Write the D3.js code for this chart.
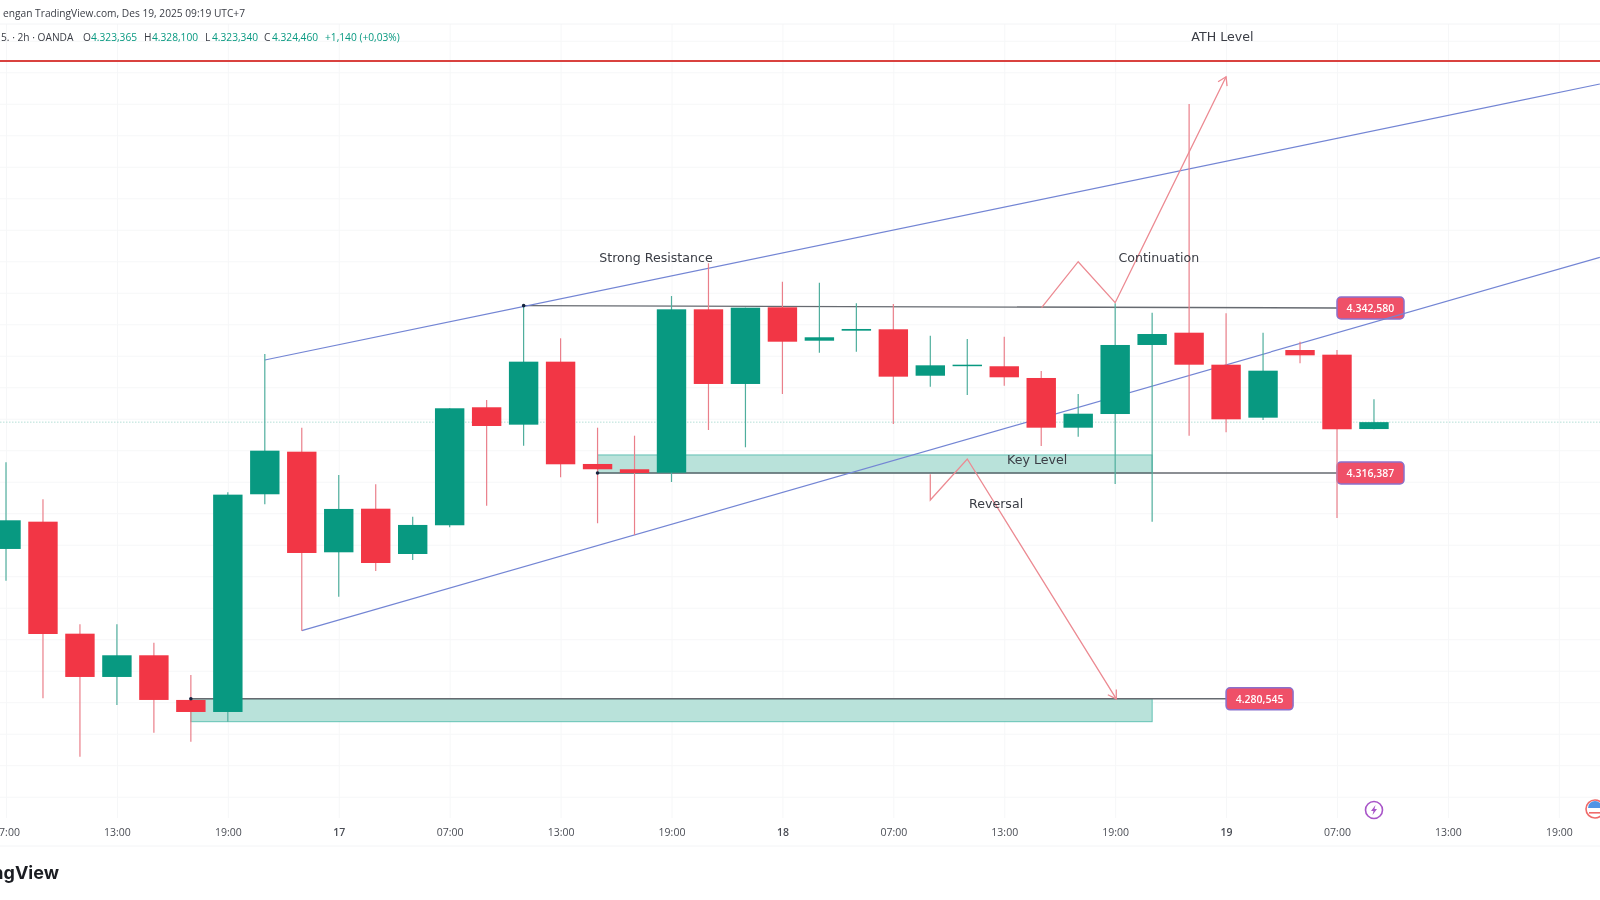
<!DOCTYPE html>
<html>
<head>
<meta charset="utf-8">
<script src="https://cdn.jsdelivr.net/npm/d3@7"></script>
<style>
    html, body { margin: 0; padding: 0; background: #fff; overflow: hidden; }
    svg { display: block; font-family: "DejaVu Sans", sans-serif; filter: blur(0.35px); }
</style>
</head>
<body>
<div id="chart"></div>
<script>
// candles, 2h bars, index 0 = 07:00 on the 16th
const opens = [4304.33, 4308.66, 4290.88, 4284.01, 4287.45, 4280.36, 4278.45, 4313.01, 4319.77, 4303.80,
    4310.72, 4303.53, 4308.09, 4326.82, 4324.06, 4334.06, 4317.82, 4316.98, 4316.44, 4342.37,
    4330.52, 4342.69, 4337.39, 4338.98, 4339.20, 4331.83, 4333.42, 4333.33, 4331.47, 4323.58,
    4325.75, 4336.71, 4338.66, 4333.58, 4325.17, 4335.91, 4335.17, 4323.365];
const highs = [4318.09, 4312.21, 4292.37, 4292.37, 4289.45, 4284.33, 4313.33, 4335.28, 4323.58, 4316.07,
    4314.60, 4309.45, 4326.66, 4327.98, 4342.95, 4337.77, 4323.58, 4322.31, 4344.48, 4349.68,
    4342.63, 4346.75, 4346.60, 4343.33, 4343.21, 4338.18, 4337.66, 4338.02, 4332.58, 4328.93,
    4343.33, 4341.83, 4374.96, 4341.74, 4338.66, 4337.23, 4335.91, 4328.10];
const lows = [4299.29, 4280.63, 4271.36, 4279.56, 4275.17, 4273.74, 4276.91, 4311.42, 4291.36, 4296.75,
    4300.83, 4302.58, 4307.77, 4311.20, 4320.72, 4315.71, 4308.41, 4306.55, 4314.96, 4323.21,
    4320.47, 4328.93, 4335.48, 4335.64, 4324.17, 4330.09, 4328.77, 4330.25, 4320.68, 4322.15,
    4314.64, 4308.66, 4322.31, 4322.85, 4324.80, 4333.80, 4309.25, 4323.34];
const closes = [4308.88, 4290.83, 4284.01, 4287.45, 4280.36, 4278.45, 4312.95, 4319.93, 4303.69, 4310.68,
    4302.10, 4308.14, 4326.66, 4323.85, 4334.06, 4317.77, 4316.98, 4316.39, 4342.37, 4330.52,
    4342.63, 4337.23, 4337.93, 4339.25, 4331.68, 4333.48, 4333.58, 4331.58, 4323.58, 4325.80,
    4336.71, 4338.45, 4333.58, 4324.91, 4332.63, 4335.07, 4323.33, 4324.46];

const tickIndex = [0, 3, 6, 9, 12, 15, 18, 21, 24, 27, 30, 33, 36, 39, 42];
const tickLabels = ["07:00", "13:00", "19:00", "17", "07:00", "13:00", "19:00", "18", "07:00", "13:00", "19:00", "19", "07:00", "13:00", "19:00"];
const gridPrices = d3.range(4265, 4390, 5);

// drawn levels and zones
const athLevel = 4381.79;
const lastPrice = 4324.46;
const resistanceLevel = 4342.58;
const supportLevel = 4316.387;
const targetLevel = 4280.545;
const keyZone = { from: 16, to: 31, top: 4319.25, bottom: 4316.39 };
const targetZone = { from: 5, to: 31, top: 4280.545, bottom: 4276.91 };

// trend channel and the two scenario paths, [bar index, price]
const upperTrend = [[7, 4334.33], [43.11, 4378.14]];
const lowerTrend = [[8, 4291.36], [43.11, 4350.63]];
const continuationPath = [[28.01, 4342.63], [29, 4349.93], [30, 4343.42], [33, 4379.29]];
const reversalPath = [[25, 4316.18], [25, 4312.10], [26, 4318.61], [30.03, 4280.52]];

// text notes: text, bar index, price
const notes = [
    ["ATH Level", 32.9, 4384.98],
    ["Strong Resistance", 17.58, 4349.83],
    ["Continuation", 31.18, 4349.83],
    ["Key Level", 27.89, 4317.85],
    ["Reversal", 26.78, 4310.83]
];
const priceTags = [
    ["4.342,580", 36, resistanceLevel],
    ["4.316,387", 36, supportLevel],
    ["4.280,545", 33, targetLevel]
];

const width = 1600;
const height = 900;
const up = "#089981";
const down = "#f23645";

const x = d3.scaleLinear().domain([0, 36]).range([6, 1337]);
const y = d3.scaleLinear().domain([resistanceLevel, supportLevel]).range([308, 473]);

const svg = d3.select("#chart").append("svg")
    .attr("width", width)
    .attr("height", height);

const defs = svg.append("defs");
defs.append("marker")
    .attr("id", "arrow")
    .attr("viewBox", "0 0 12 12")
    .attr("refX", 10).attr("refY", 6)
    .attr("markerWidth", 12).attr("markerHeight", 12)
    .attr("markerUnits", "userSpaceOnUse")
    .attr("orient", "auto")
    .append("path")
    .attr("d", "M2,1 L10,6 L2,11")
    .attr("fill", "none")
    .attr("stroke", "#ec8a92")
    .attr("stroke-width", 1.3);

// grid
const gridY = svg.append("g")
    .call(d3.axisLeft(y).tickValues(gridPrices).tickSize(-width).tickFormat(""));
gridY.select(".domain").remove();
gridY.selectAll("line").attr("stroke", "#f6f7f8");

const gridX = svg.append("g")
    .attr("transform", "translate(0,818)")
    .call(d3.axisTop(x).tickValues(tickIndex).tickSize(794).tickFormat(""));
gridX.select(".domain").remove();
gridX.selectAll("line").attr("stroke", "#f6f7f8");

svg.append("line").attr("x1", 0).attr("x2", width).attr("y1", 24).attr("y2", 24).attr("stroke", "#f3f4f6");
svg.append("line").attr("x1", 0).attr("x2", width).attr("y1", 846).attr("y2", 846).attr("stroke", "#f3f4f6");

// zones
[keyZone, targetZone].forEach(z => {
    svg.append("rect")
        .attr("x", x(z.from))
        .attr("y", y(z.top))
        .attr("width", x(z.to) - x(z.from))
        .attr("height", y(z.bottom) - y(z.top))
        .attr("fill", "#b9e2da")
        .attr("stroke", "#62c2b4")
        .attr("stroke-width", 1);
});

// last price line
svg.append("line")
    .attr("x1", 0).attr("x2", width)
    .attr("y1", y(lastPrice)).attr("y2", y(lastPrice))
    .attr("stroke", "#b5dfd7")
    .attr("stroke-dasharray", "1.5 1.5");

// ATH line
svg.append("line")
    .attr("x1", 0).attr("x2", width)
    .attr("y1", y(athLevel)).attr("y2", y(athLevel))
    .attr("stroke", "#d9423f")
    .attr("stroke-width", 2);

// horizontal levels
const levels = [
    [14, 4342.95, 36, resistanceLevel],
    [16, supportLevel, 36, supportLevel],
    [5, targetLevel, 33, targetLevel]
];
levels.forEach(l => {
    svg.append("line")
        .attr("x1", x(l[0])).attr("y1", y(l[1]))
        .attr("x2", x(l[2])).attr("y2", y(l[3]))
        .attr("stroke", "#666a70")
        .attr("stroke-width", 1.4);
});

// price tags
const tags = svg.selectAll(".tag").data(priceTags).enter().append("g")
    .attr("class", "tag")
    .attr("transform", d => `translate(${x(d[1])},${y(d[2])})`);
tags.append("rect")
    .attr("x", 0).attr("y", -11)
    .attr("width", 67).attr("height", 22)
    .attr("rx", 4)
    .attr("fill", "#ef5068")
    .attr("stroke", "#8a70cc")
    .attr("stroke-width", 1.5);
tags.append("text")
    .attr("x", 33.5).attr("y", 4)
    .attr("text-anchor", "middle")
    .attr("fill", "#fff")
    .attr("font-family", "'Open Sans', sans-serif")
    .attr("font-size", 10.5)
    .attr("font-weight", 600)
    .text(d => d[0]);

// channel, sits behind the candles
const line = d3.line().x(d => x(d[0])).y(d => y(d[1]));
[upperTrend, lowerTrend].forEach(t => {
    svg.append("path")
        .attr("d", line(t))
        .attr("fill", "none")
        .attr("stroke", "#7385d4")
        .attr("stroke-width", 1.2);
});

// candles
const bars = svg.selectAll(".bar").data(opens).enter().append("g").attr("class", "bar");
bars.append("line")
    .attr("x1", (d, i) => x(i)).attr("x2", (d, i) => x(i))
    .attr("y1", (d, i) => y(highs[i]))
    .attr("y2", (d, i) => y(lows[i]))
    .attr("stroke", (d, i) => closes[i] >= opens[i] ? "#4fae9d" : "#ea7f8a")
    .attr("stroke-width", 1.2);
bars.append("rect")
    .attr("x", (d, i) => x(i) - 14.7)
    .attr("y", (d, i) => y(Math.max(opens[i], closes[i])))
    .attr("width", 29.4)
    .attr("height", (d, i) => Math.max(1.5, Math.abs(y(opens[i]) - y(closes[i]))))
    .attr("fill", (d, i) => closes[i] >= opens[i] ? up : down);

// anchor dots
[[14, 4342.95], [16, supportLevel], [5, targetLevel]].forEach(p => {
    svg.append("circle")
        .attr("cx", x(p[0])).attr("cy", y(p[1]))
        .attr("r", 1.8)
        .attr("fill", "#14233f");
});

// scenario paths
[continuationPath, reversalPath].forEach(p => {
    svg.append("path")
        .attr("d", line(p))
        .attr("fill", "none")
        .attr("stroke", "#ec8a92")
        .attr("stroke-width", 1.3)
        .attr("marker-end", "url(#arrow)");
});

// notes
svg.selectAll(".note").data(notes).enter().append("text")
    .attr("class", "note")
    .attr("x", d => x(d[1]))
    .attr("y", d => y(d[2]))
    .attr("text-anchor", "middle")
    .attr("font-size", 12.6)
    .attr("fill", "#3a3d45")
    .text(d => d[0]);

// time axis
const axis = svg.append("g")
    .attr("transform", "translate(0,829)")
    .call(d3.axisBottom(x).tickValues(tickIndex).tickSize(0).tickPadding(0)
        .tickFormat((d, i) => tickLabels[i]));
axis.select(".domain").remove();
axis.selectAll("text")
    .attr("font-family", "'Open Sans', sans-serif")
    .attr("font-size", 10.5)
    .attr("fill", "#4a4d55")
    .attr("font-weight", d => tickLabels[tickIndex.indexOf(d)].length < 3 ? 600 : 400);

// header
const header = svg.append("g").attr("font-family", "'Open Sans', sans-serif").attr("font-size", 10.2);
header.append("text")
    .attr("x", 245).attr("y", 17)
    .attr("text-anchor", "end")
    .attr("fill", "#3a3d45")
    .text("engan TradingView.com, Des 19, 2025 09:19 UTC+7");

const ohlc = [
    ["5. · 2h · OANDA", 1, "#3a3d45"],
    ["O", 83, "#3a3d45"],
    ["4.323,365", 91, up],
    ["H", 144, "#3a3d45"],
    ["4.328,100", 152, up],
    ["L", 205, "#3a3d45"],
    ["4.323,340", 212, up],
    ["C", 264, "#3a3d45"],
    ["4.324,460", 272, up],
    ["+1,140 (+0,03%)", 325, up]
];
header.selectAll(".ohlc").data(ohlc).enter().append("text")
    .attr("class", "ohlc")
    .attr("x", d => d[1])
    .attr("y", 41)
    .attr("fill", d => d[2])
    .text(d => d[0]);

// watermark
svg.append("text")
    .attr("x", 59).attr("y", 879)
    .attr("text-anchor", "end")
    .attr("font-family", "Inter, sans-serif")
    .attr("font-weight", 700)
    .attr("font-size", 18)
    .attr("fill", "#1b1d22")
    .text("TradingView");

// event icons on the bottom of the pane
const bolt = svg.append("g").attr("transform", "translate(1374,810)");
bolt.append("circle").attr("r", 8.5).attr("fill", "#fff").attr("stroke", "#a855c8").attr("stroke-width", 1.6);
bolt.append("path").attr("d", "M1.5,-5 L-3,1 L-0.5,1 L-1.5,5 L3,-1 L0.5,-1 Z").attr("fill", "#a855c8");

const flag = svg.append("g").attr("transform", "translate(1595,809)");
flag.append("circle").attr("r", 9).attr("fill", "#fff").attr("stroke", "#ef6a6a").attr("stroke-width", 1.6);
flag.append("path").attr("d", "M-7,-1 A7,7 0 0 1 7,-1 Z").attr("fill", "#4f93e6");
flag.append("rect").attr("x", -6).attr("y", 3).attr("width", 12).attr("height", 1.6).attr("fill", "#ef6a6a");
</script>
</body>
</html>
